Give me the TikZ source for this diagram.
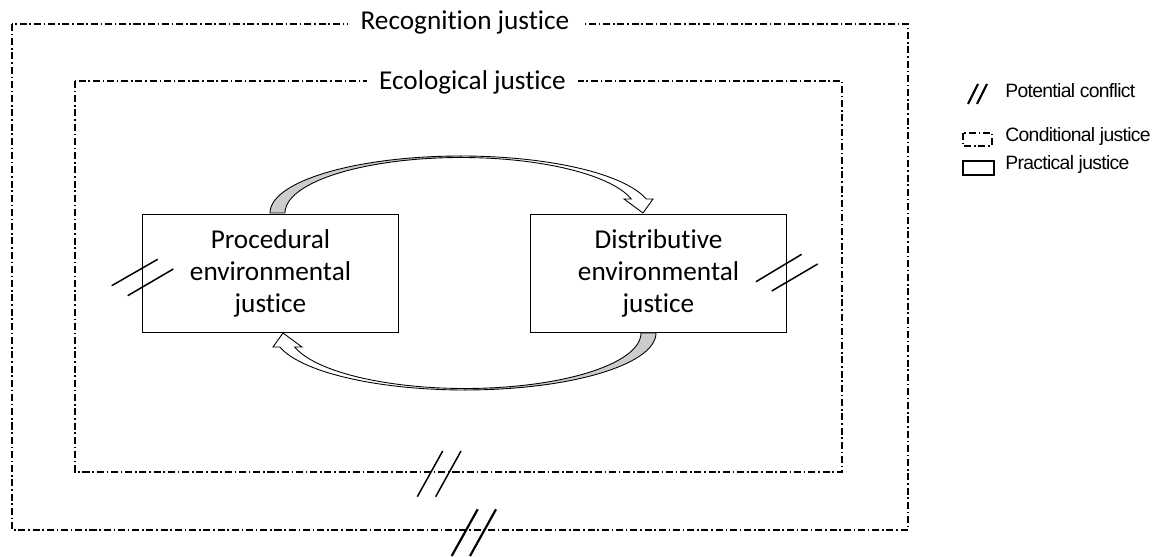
\documentclass[tikz,border=0pt]{standalone}
\usepackage{fontspec}
\setmainfont{Carlito}[RawFeature=-liga]
\newfontfamily\legendfont{Liberation Sans}[LetterSpace=-3.5]
\newcommand{\jusarrow}{%
  % back (grey) half of the curved band
  \draw[arrowback]
    plot[domain=180:90, samples=50, variable=\t] ({461+191*cos(\t)},{213-57*sin(\t)})
    -- plot[domain=90:180, samples=50, variable=\t] ({461+176*cos(\t)},{213-55.5*sin(\t)})
    -- cycle;
  % front (white) half with its head
  \draw[arrowfront]
    plot[domain=90:14.2, samples=50, variable=\t] ({461+191*cos(\t)},{213-57*sin(\t)})
    -- (653,199) -- (643,213) -- (624,199)
    -- plot[domain=14.6:90, samples=50, variable=\t] ({461+176*cos(\t)},{213-55.5*sin(\t)})
    -- cycle;
}
\begin{document}
\begin{tikzpicture}[x=0.02cm,y=-0.02cm,
  dashdot/.style={line width=0.6pt, dash pattern=on 4pt off 1.6pt on 0.9pt off 1.6pt},
  boxnode/.style={draw, line width=0.75pt, minimum width=5.12cm, minimum height=2.36cm,
    align=center, font=\fontsize{15.5}{18}\selectfont, inner sep=0pt},
  title/.style={fill=white, anchor=base, inner xsep=7pt, inner ysep=2pt,
    font=\fontsize{15.5}{18}\selectfont},
  conflict/.style={line width=0.85pt},
  bigconflict/.style={line width=1.25pt},
  legtext/.style={anchor=base west, inner sep=0pt, font=\legendfont\fontsize{11}{13}\selectfont},
  arrowback/.style={fill=black!20, draw, line width=0.5pt, line join=round},
  arrowfront/.style={fill=white, draw, line width=0.5pt, line join=miter}]

\useasboundingbox (0,0) rectangle (1161,557);

% frames (conditional justice)
\draw[dashdot] (12,24) rectangle (908,530);
\node[title] (rec) at (465,30) {Recognition justice};
\draw[dashdot] (75,81) rectangle (842,472);
\node[title] (eco) at (472.5,90) {Ecological justice};

% practical justice boxes
\node[boxnode] (proc) at (270.5,273.3) {Procedural\\environmental\\justice};
\node[boxnode] (dist) at (658.5,273.3) {Distributive\\environmental\\justice};

% curved arrows
\jusarrow
\begin{scope}[rotate around={180:(463,273)}]
  \jusarrow
\end{scope}

% potential conflicts
\draw[conflict] (111.7,285.7) -- (157.7,259.3);
\draw[conflict] (127.7,295.7) -- (173.3,269);
\draw[conflict] (756,281.7) -- (801.7,254.3);
\draw[conflict] (771.7,291) -- (817.7,264);
\draw[conflict] (417.3,496.7) -- (442.7,451);
\draw[conflict] (435.7,496.7) -- (461,451);
\draw[bigconflict] (451.7,556) -- (477.7,509.3);
\draw[bigconflict] (470,556) -- (496,509.3);

% legend
\draw[bigconflict] (968,104) -- (978,84);
\draw[bigconflict] (977,104) -- (987,84);
\node[legtext] (lpc) at (1005,98) {Potential conflict};
\draw[dashdot] (963,133) rectangle (992,146);
\node[legtext] (lcj) at (1005,142) {Conditional justice};
\draw[line width=0.75pt] (963,161) rectangle (994,175);
\node[legtext] (lpj) at (1005,170) {Practical justice};
\end{tikzpicture}
\end{document}
